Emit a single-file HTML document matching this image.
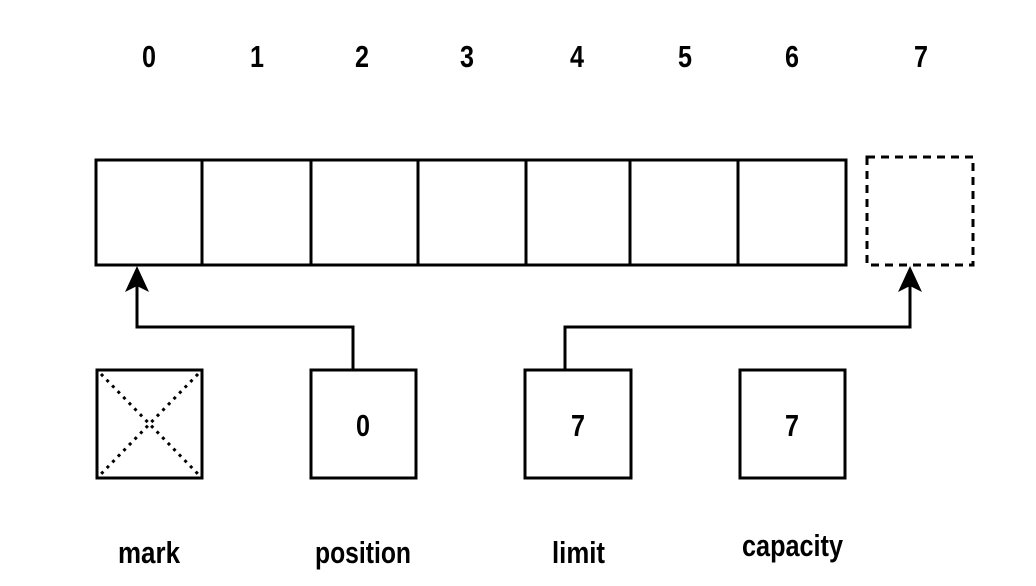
<!DOCTYPE html>
<html><head><meta charset="utf-8"><style>
html,body{margin:0;padding:0;background:#fff;}
svg{display:block;}
text{font-family:"Liberation Sans Narrow","Liberation Sans",sans-serif;font-weight:bold;fill:#000;}
.lbl{font-size:31px;}
</style></head><body>
<svg width="1036" height="586" viewBox="0 0 1036 586">
<g id="idx"></g>
<g id="cells"></g>
<rect x="867" y="157" width="106" height="108" fill="none" stroke="#000" stroke-width="3" stroke-dasharray="8,6"/>
<path d="M137,276 L137,327 L353,327 L353,369" fill="none" stroke="#000" stroke-width="3"/>
<path d="M137,266 L125,292 L137,286 L149,292 Z" fill="#000"/>
<path d="M565,369 L565,327 L910,327 L910,276" fill="none" stroke="#000" stroke-width="3"/>
<path d="M910,266 L898,292 L910,286 L922,292 Z" fill="#000"/>
<g>
<rect x="97" y="370" width="105" height="108" fill="none" stroke="#000" stroke-width="3"/>
<line x1="101" y1="374" x2="198" y2="474" stroke="#000" stroke-width="3" stroke-dasharray="3,5"/>
<line x1="198" y1="374" x2="101" y2="474" stroke="#000" stroke-width="3" stroke-dasharray="3,5"/>
</g>
<g><rect x="311" y="370" width="105" height="108" fill="none" stroke="#000" stroke-width="3"/><text x="356" y="436" font-size="31" textLength="14" lengthAdjust="spacingAndGlyphs">0</text></g>
<g><rect x="525" y="370" width="106" height="108" fill="none" stroke="#000" stroke-width="3"/><text x="571" y="436" font-size="31" textLength="14" lengthAdjust="spacingAndGlyphs">7</text></g>
<g><rect x="740" y="370" width="105" height="108" fill="none" stroke="#000" stroke-width="3"/><text x="785" y="436" font-size="31" textLength="14" lengthAdjust="spacingAndGlyphs">7</text></g>
<text class="lbl" x="118" y="563" textLength="62" lengthAdjust="spacingAndGlyphs">mark</text>
<text class="lbl" x="315" y="563" textLength="96" lengthAdjust="spacingAndGlyphs">position</text>
<text class="lbl" x="552" y="563" textLength="53" lengthAdjust="spacingAndGlyphs">limit</text>
<text class="lbl" x="742" y="556" textLength="101" lengthAdjust="spacingAndGlyphs">capacity</text>
</svg>
<script>
const indices=["0","1","2","3","4","5","6","7"];
const idxX=[149,257,362,467,577,685,792,921];
const edges=[96,202,311,418,526,630,738,846];
const NS="http://www.w3.org/2000/svg";
const gi=document.getElementById('idx');
indices.forEach((t,i)=>{
 const e=document.createElementNS(NS,'text');
 e.setAttribute('x',idxX[i]-7);e.setAttribute('y',67);e.setAttribute('font-size','31');
 e.setAttribute('textLength','14');e.setAttribute('lengthAdjust','spacingAndGlyphs');
 e.textContent=t;
 
 
 gi.appendChild(e);
});
const gc=document.getElementById('cells');
for(let i=0;i<edges.length-1;i++){
 const r=document.createElementNS(NS,'rect');
 r.setAttribute('x',edges[i]);r.setAttribute('y',160);r.setAttribute('width',edges[i+1]-edges[i]);r.setAttribute('height',105);
 r.setAttribute('fill','none');r.setAttribute('stroke','#000');r.setAttribute('stroke-width','3');
 
 
 gc.appendChild(r);
}
</script>
</body></html>
